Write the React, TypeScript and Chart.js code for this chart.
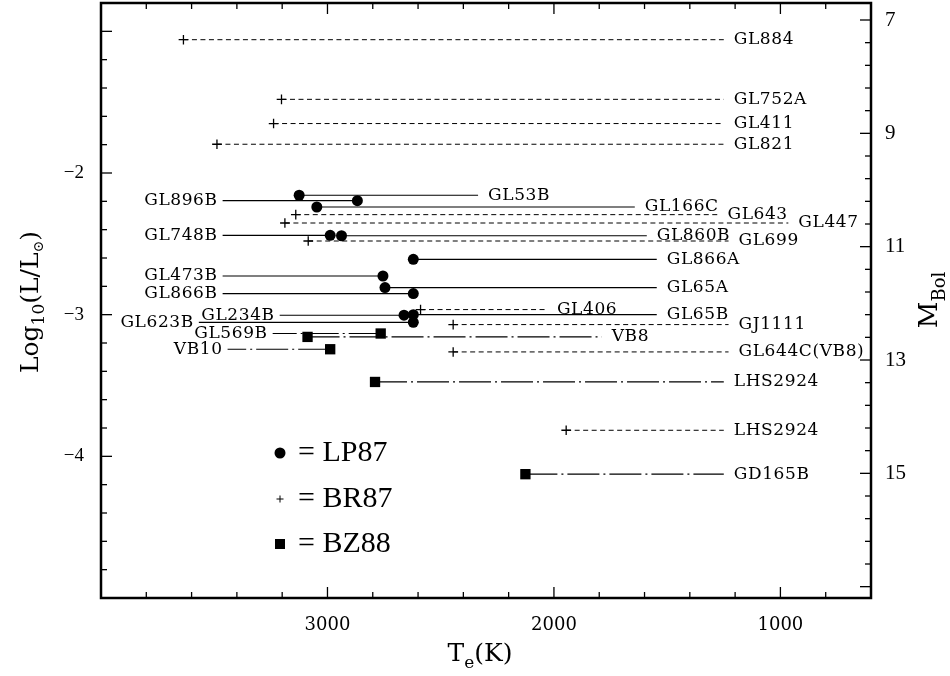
import React, { useEffect, useRef } from 'react';
import { Chart, registerables } from 'chart.js';

Chart.register(...registerables);

// ---------- data ----------
const starNames = [
  'GL884', 'GL752A', 'GL411', 'GL821', 'GL53B', 'GL896B', 'GL166C', 'GL643', 'GL447',
  'GL748B', 'GL860B', 'GL699', 'GL866A', 'GL473B', 'GL65A', 'GL866B', 'GL406', 'GL234B',
  'GL65B', 'GL623B', 'GJ1111', 'GL569B', 'VB8', 'VB10', 'GL644C(VB8)', 'LHS2924', 'LHS2924', 'GD165B',
];
// effective temperature (K)
const starTeff = [
  3636, 3203, 3238, 3488, 3125, 2868, 3047, 3140, 3188,
  2988, 2938, 3085, 2621, 2755, 2746, 2621, 2589, 2662,
  2621, 2621, 2445, 2765, 3088, 2988, 2445, 2790, 1946, 2126,
];
// log10(L / Lsun)
const starLogL = [
  -1.059, -1.480, -1.651, -1.797, -2.157, -2.195, -2.240, -2.294, -2.353,
  -2.440, -2.443, -2.480, -2.609, -2.727, -2.809, -2.851, -2.964, -3.004,
  -3.000, -3.054, -3.070, -3.133, -3.157, -3.244, -3.263, -3.475, -3.816, -4.126,
];
// source of each estimate
const starSource = [
  'BR87', 'BR87', 'BR87', 'BR87', 'LP87', 'LP87', 'LP87', 'BR87', 'BR87',
  'LP87', 'LP87', 'BR87', 'LP87', 'LP87', 'LP87', 'LP87', 'BR87', 'LP87',
  'LP87', 'LP87', 'BR87', 'BZ88', 'BZ88', 'BZ88', 'BR87', 'BZ88', 'BR87', 'BZ88',
];
// temperature where each leader line ends at its name
const leaderTeff = [
  1250, 1250, 1250, 1250, 2335, 3463, 1643, 1278, 965,
  3463, 1590, 1229, 1546, 3463, 1546, 3463, 2031, 3211,
  1546, 3568, 1229, 3242, 1789, 3441, 1229, 1250, 1250, 1250,
];

const sourceNames = ['LP87', 'BR87', 'BZ88'];

const xMin = 600;
const xMax = 4000;
const xLabelTicks = [1000, 2000, 3000];
const yMin = -5;
const yMax = -0.8;
const yLabelTicks = [-2, -3, -4];
const mbolZero = 4.7; // M_Bol = mbolZero - 2.5 log L
const mbolLabelTicks = [7, 9, 11, 13, 15];

// ---------- helpers ----------
const range = (a: number, b: number, step: number) => {
  const out: number[] = [];
  for (let v = a; v <= b + 1e-9; v += step) out.push(Math.round(v * 1000) / 1000);
  return out;
};
const xTickValues = range(xMin, xMax, 200);
const yTickValues = range(yMin, yMax, 0.2);
const y2Min = mbolZero - 2.5 * yMax;
const y2Max = mbolZero - 2.5 * yMin;
const y2TickValues = range(7, 17, 0.4);
const isInt = (v: number) => Math.abs(v - Math.round(v)) < 1e-6;

const dashFor: Record<string, number[]> = { LP87: [], BR87: [5, 3.5], BZ88: [32, 4, 2, 4] };
const widthFor: Record<string, number> = { LP87: 1.2, BR87: 1, BZ88: 1.2 };

const SERIF = '"DejaVu Serif", serif';
const LSERIF = '"Liberation Serif", serif';

const zeroPad = (s: any) => {
  s.paddingTop = 0;
  s.paddingBottom = 0;
  s.paddingLeft = 0;
  s.paddingRight = 0;
};

const framePlugin = {
  id: 'frameTicks',
  afterDraw(chart: any) {
    const { ctx, chartArea: a, scales } = chart;
    ctx.save();
    ctx.strokeStyle = '#000';
    ctx.lineWidth = 1.3;
    const seg = (x1: number, y1: number, x2: number, y2: number) => {
      ctx.beginPath();
      ctx.moveTo(x1, y1);
      ctx.lineTo(x2, y2);
      ctx.stroke();
    };
    const MAJ = 11, MIN = 6;
    scales.x.ticks.forEach((t: any) => {
      const p = scales.x.getPixelForValue(t.value);
      const l = t.value % 1000 === 0 ? MAJ : MIN;
      seg(p, a.bottom, p, a.bottom - l);
      seg(p, a.top, p, a.top + l);
    });
    scales.y.ticks.forEach((t: any) => {
      const p = scales.y.getPixelForValue(t.value);
      const l = isInt(t.value) ? MAJ : MIN;
      seg(a.left, p, a.left + l, p);
    });
    scales.y2.ticks.forEach((t: any) => {
      const p = scales.y2.getPixelForValue(t.value);
      const l = isInt(t.value) && Math.round(t.value) % 2 === 1 ? MAJ : MIN;
      seg(a.right, p, a.right - l, p);
    });
    ctx.lineWidth = 2.5;
    ctx.strokeRect(a.left, a.top, a.right - a.left, a.bottom - a.top);

    // axis titles
    ctx.fillStyle = '#000';
    ctx.textBaseline = 'alphabetic';
    ctx.textAlign = 'left';
    // bottom: T_e(K)
    const big = `25px ${SERIF}`;
    const sub = `17px ${SERIF}`;
    ctx.font = big;
    const wT = ctx.measureText('T').width;
    const wK = ctx.measureText('(K)').width;
    ctx.font = sub;
    const we = ctx.measureText('e').width;
    const x0 = (a.left + a.right) / 2 - 6 - (wT + we + wK) / 2;
    const by = 661;
    ctx.font = big;
    ctx.fillText('T', x0, by);
    ctx.font = sub;
    ctx.fillText('e', x0 + wT, by + 7);
    ctx.font = big;
    ctx.fillText('(K)', x0 + wT + we, by);

    // left: Log10(L/L⊙)
    ctx.save();
    ctx.translate(38, 302);
    ctx.rotate(-Math.PI / 2);
    const parts: [string, string, number][] = [
      ['Log', big, 0], ['10', sub, 6], ['(L/L', big, 0], ['\u2299', `14px ${SERIF}`, 5], [')', big, 0],
    ];
    let total = 0;
    parts.forEach(([s, f]) => { ctx.font = f; total += ctx.measureText(s).width; });
    let cx = -total / 2;
    parts.forEach(([s, f, dy]) => {
      ctx.font = f;
      ctx.fillText(s, cx, dy);
      cx += ctx.measureText(s).width;
    });
    ctx.restore();

    // right: M_Bol
    ctx.save();
    ctx.translate(937, 300);
    ctx.rotate(-Math.PI / 2);
    const rparts: [string, string, number][] = [['M', `26px ${SERIF}`, 0], ['Bol', `18px ${SERIF}`, 8]];
    total = 0;
    rparts.forEach(([s, f]) => { ctx.font = f; total += ctx.measureText(s).width; });
    cx = -total / 2;
    rparts.forEach(([s, f, dy]) => {
      ctx.font = f;
      ctx.fillText(s, cx, dy);
      cx += ctx.measureText(s).width;
    });
    ctx.restore();

    // legend
    const lx = a.left + 179;
    const rows = [a.top + 450, a.top + 496, a.top + 541];
    ctx.font = `30px ${LSERIF}`;
    ctx.textBaseline = 'middle';
    sourceNames.forEach((s, i) => {
      const y = rows[i];
      ctx.fillStyle = '#000';
      ctx.strokeStyle = '#000';
      if (s === 'LP87') {
        ctx.beginPath();
        ctx.arc(lx, y, 5.5, 0, Math.PI * 2);
        ctx.fill();
      } else if (s === 'BR87') {
        ctx.lineWidth = 1;
        seg(lx - 3.5, y, lx + 3.5, y);
        seg(lx, y - 3.5, lx, y + 3.5);
      } else {
        ctx.fillRect(lx - 5, y - 5, 10, 10);
      }
      ctx.fillText('= ' + s, lx + 18, y);
    });
    ctx.restore();
  },
};

const labelPlugin = {
  id: 'starLabels',
  afterDatasetsDraw(chart: any) {
    const { ctx, scales } = chart;
    ctx.save();
    ctx.fillStyle = '#000';
    ctx.font = `17px ${SERIF}`;
    (ctx as any).letterSpacing = '0.6px';
    ctx.textBaseline = 'middle';
    starNames.forEach((name, i) => {
      const px = scales.x.getPixelForValue(leaderTeff[i]);
      const py = scales.y.getPixelForValue(starLogL[i]);
      if (leaderTeff[i] > starTeff[i]) {
        ctx.textAlign = 'right';
        ctx.fillText(name, px - 5, py);
      } else {
        ctx.textAlign = 'left';
        ctx.fillText(name, px + 10, py);
      }
    });
    ctx.restore();
  },
};

export default function App() {
  const ref = useRef<HTMLCanvasElement | null>(null);

  useEffect(() => {
    if (!ref.current) return;

    const lineSets = starNames.map((_, i) => ({
      data: [
        { x: starTeff[i], y: starLogL[i] },
        { x: leaderTeff[i], y: starLogL[i] },
      ],
      showLine: true,
      borderColor: '#000',
      borderWidth: widthFor[starSource[i]],
      borderDash: dashFor[starSource[i]],
      pointRadius: 0,
      order: 2,
    }));

    const pts = (src: string) =>
      starNames
        .map((_, i) => i)
        .filter((i) => starSource[i] === src)
        .map((i) => ({ x: starTeff[i], y: starLogL[i] }));

    const markerSets = [
      { data: pts('LP87'), pointStyle: 'circle', pointRadius: 5.5, backgroundColor: '#000', borderColor: '#000', borderWidth: 0, showLine: false, order: 0 },
      { data: pts('BR87'), pointStyle: 'cross', pointRadius: 4.8, backgroundColor: '#000', borderColor: '#000', borderWidth: 1.3, showLine: false, order: 0 },
      { data: pts('BZ88'), pointStyle: 'rect', pointRadius: 7.3, backgroundColor: '#000', borderColor: '#000', borderWidth: 0, showLine: false, order: 0 },
    ];

    const chart = new Chart(ref.current, {
      type: 'scatter',
      data: { datasets: [...markerSets, ...lineSets] as any },
      options: {
        responsive: false,
        animation: false,
        events: [],
        layout: { autoPadding: false, padding: { top: 3, left: 0, right: 0, bottom: 0 } },
        plugins: { legend: { display: false }, tooltip: { enabled: false } },
        scales: {
          x: {
            type: 'linear',
            position: 'bottom',
            reverse: true,
            min: xMin,
            max: xMax,
            afterBuildTicks: (s: any) => { s.ticks = xTickValues.map((v) => ({ value: v })); },
            afterFit: (s: any) => { s.height = 78; zeroPad(s); },
            grid: { display: false, drawTicks: false },
            border: { display: false },
            ticks: {
              autoSkip: false,
              maxRotation: 0,
              padding: 17,
              color: '#000',
              font: { family: SERIF, size: 18 },
              callback: (v: any) => (xLabelTicks.includes(Number(v)) ? String(v) : ''),
            },
          },
          y: {
            type: 'linear',
            position: 'left',
            min: yMin,
            max: yMax,
            afterBuildTicks: (s: any) => { s.ticks = yTickValues.map((v) => ({ value: v })); },
            afterFit: (s: any) => { s.width = 101; zeroPad(s); },
            grid: { display: false, drawTicks: false },
            border: { display: false },
            ticks: {
              autoSkip: false,
              padding: 17,
              color: '#000',
              font: { family: LSERIF, size: 19 },
              callback: (v: any) => {
                const n = Math.round(Number(v) * 1000) / 1000;
                return yLabelTicks.includes(n) ? '\u2212' + Math.abs(n) : '';
              },
            },
          },
          y2: {
            type: 'linear',
            position: 'right',
            reverse: true,
            min: y2Min,
            max: y2Max,
            afterBuildTicks: (s: any) => { s.ticks = y2TickValues.map((v) => ({ value: v })); },
            afterFit: (s: any) => { s.width = 79; zeroPad(s); },
            grid: { display: false, drawTicks: false },
            border: { display: false },
            ticks: {
              autoSkip: false,
              padding: 14,
              color: '#000',
              font: { family: LSERIF, size: 21 },
              callback: (v: any) => {
                const n = Math.round(Number(v) * 1000) / 1000;
                return mbolLabelTicks.includes(n) ? String(n) : '';
              },
            },
          },
        },
      },
      plugins: [labelPlugin, framePlugin],
    } as any);

    return () => chart.destroy();
  }, []);

  return (
    <div style={{ position: 'absolute', left: 0, top: 0, width: 950, height: 676, background: '#fff' }}>
      <canvas ref={ref} width={950} height={676} style={{ display: 'block' }} />
    </div>
  );
}
